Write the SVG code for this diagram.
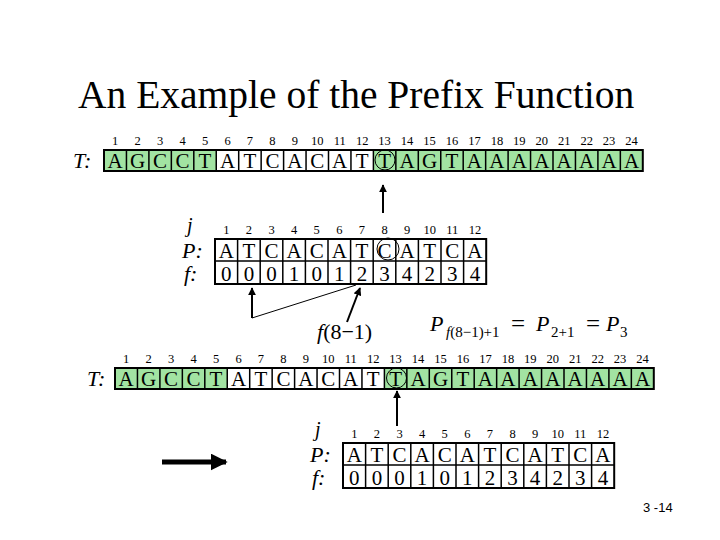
<svg xmlns="http://www.w3.org/2000/svg" width="720" height="540" viewBox="0 0 720 540">
<style>
.serif{font-family:"Liberation Serif","Times New Roman",serif;fill:#000}
.num{font-size:12.5px;text-anchor:middle}
.cell{font-size:21px;text-anchor:middle}
.lbl{font-size:22px;font-style:italic}
.jl{font-size:20px;font-style:italic}
.grid{fill:none;stroke:#000;stroke-width:1.5}
.outer{fill:none;stroke:#000;stroke-width:2}
.green{fill:#a2e3a2}
.circ{fill:none;stroke:#000;stroke-width:1}
.arr{stroke:#000;stroke-width:2;fill:none}
</style>
<defs>
<marker id="ah" viewBox="0 0 10 10" refX="9" refY="5" markerWidth="8" markerHeight="8" markerUnits="userSpaceOnUse" orient="auto">
<path d="M0,0 L10,5 L0,10 Z" fill="#000"/>
</marker>
<marker id="ahbig" viewBox="0 0 10 10" refX="9" refY="5" markerWidth="17" markerHeight="17" markerUnits="userSpaceOnUse" orient="auto">
<path d="M0,0 L10,5 L0,10 Z" fill="#000"/>
</marker>
</defs>
<rect width="720" height="540" fill="#fff"/>
<g id="title"><text class="serif" x="78" y="108" font-size="39.5">An Example of the Prefix Function</text></g>

<g id="t-row-1">
<text class="serif lbl" x="73" y="168">T:</text>
<rect class="green" x="104" y="150" width="112.25" height="21"/>
<rect class="green" x="373.4" y="150" width="269.4" height="21"/>
<path class="grid" d="M126.45,150V171M148.9,150V171M171.35,150V171M193.8,150V171M216.25,150V171M238.7,150V171M261.15,150V171M283.6,150V171M306.05,150V171M328.5,150V171M350.95,150V171M373.4,150V171M395.85,150V171M418.3,150V171M440.75,150V171M463.2,150V171M485.65,150V171M508.1,150V171M530.55,150V171M553,150V171M575.45,150V171M597.9,150V171M620.35,150V171"/>
<rect class="outer" x="104" y="150" width="538.8" height="21"/>
<text class="serif num" y="145"><tspan x="115.2">1</tspan><tspan x="137.7">2</tspan><tspan x="160.1">3</tspan><tspan x="182.6">4</tspan><tspan x="205">5</tspan><tspan x="227.5">6</tspan><tspan x="249.9">7</tspan><tspan x="272.4">8</tspan><tspan x="294.8">9</tspan><tspan x="317.3">10</tspan><tspan x="339.7">11</tspan><tspan x="362.2">12</tspan><tspan x="384.6">13</tspan><tspan x="407.1">14</tspan><tspan x="429.5">15</tspan><tspan x="452">16</tspan><tspan x="474.4">17</tspan><tspan x="496.9">18</tspan><tspan x="519.3">19</tspan><tspan x="541.8">20</tspan><tspan x="564.2">21</tspan><tspan x="586.7">22</tspan><tspan x="609.1">23</tspan><tspan x="631.6">24</tspan></text>
<text class="serif cell" y="168" x="115.2 137.7 160.1 182.6 205 227.5 249.9 272.4 294.8 317.3 339.7 362.2 384.6 407.1 429.5 452 474.4 496.9 519.3 541.8 564.2 586.7 609.1 631.6">AGCCTATCACATTAGTAAAAAAAA</text>
<circle class="circ" cx="385" cy="160" r="10"/>
</g>

<g id="p-table-1">
<text class="serif jl" x="187" y="232">j</text>
<text class="serif lbl" x="182" y="258">P:</text>
<text class="serif lbl" x="184" y="281">f:</text>
<path class="grid" d="M215,261H486.2M237.6,239V284M260.2,239V284M282.8,239V284M305.4,239V284M328,239V284M350.6,239V284M373.2,239V284M395.8,239V284M418.4,239V284M441,239V284M463.6,239V284"/>
<rect class="outer" x="215" y="239" width="271.2" height="45"/>
<text class="serif num" y="234"><tspan x="226.3">1</tspan><tspan x="248.9">2</tspan><tspan x="271.5">3</tspan><tspan x="294.1">4</tspan><tspan x="316.7">5</tspan><tspan x="339.3">6</tspan><tspan x="361.9">7</tspan><tspan x="384.5">8</tspan><tspan x="407.1">9</tspan><tspan x="429.7">10</tspan><tspan x="452.3">11</tspan><tspan x="474.9">12</tspan></text>
<text class="serif cell" y="258" x="226.3 248.9 271.5 294.1 316.7 339.3 361.9 384.5 407.1 429.7 452.3 474.9">ATCACATCATCA</text>
<text class="serif cell" y="281" x="226.3 248.9 271.5 294.1 316.7 339.3 361.9 384.5 407.1 429.7 452.3 474.9">000101234234</text>
<circle class="circ" cx="388" cy="249" r="11"/>
</g>

<g id="t-row-2" transform="translate(11,218)">
<text class="serif lbl" x="76" y="168">T:</text>
<rect class="green" x="104" y="150" width="112.25" height="21"/>
<rect class="green" x="373.4" y="150" width="269.4" height="21"/>
<path class="grid" d="M126.45,150V171M148.9,150V171M171.35,150V171M193.8,150V171M216.25,150V171M238.7,150V171M261.15,150V171M283.6,150V171M306.05,150V171M328.5,150V171M350.95,150V171M373.4,150V171M395.85,150V171M418.3,150V171M440.75,150V171M463.2,150V171M485.65,150V171M508.1,150V171M530.55,150V171M553,150V171M575.45,150V171M597.9,150V171M620.35,150V171"/>
<rect class="outer" x="104" y="150" width="538.8" height="21"/>
<text class="serif num" y="145"><tspan x="115.2">1</tspan><tspan x="137.7">2</tspan><tspan x="160.1">3</tspan><tspan x="182.6">4</tspan><tspan x="205">5</tspan><tspan x="227.5">6</tspan><tspan x="249.9">7</tspan><tspan x="272.4">8</tspan><tspan x="294.8">9</tspan><tspan x="317.3">10</tspan><tspan x="339.7">11</tspan><tspan x="362.2">12</tspan><tspan x="384.6">13</tspan><tspan x="407.1">14</tspan><tspan x="429.5">15</tspan><tspan x="452">16</tspan><tspan x="474.4">17</tspan><tspan x="496.9">18</tspan><tspan x="519.3">19</tspan><tspan x="541.8">20</tspan><tspan x="564.2">21</tspan><tspan x="586.7">22</tspan><tspan x="609.1">23</tspan><tspan x="631.6">24</tspan></text>
<text class="serif cell" y="168" x="115.2 137.7 160.1 182.6 205 227.5 249.9 272.4 294.8 317.3 339.7 362.2 384.6 407.1 429.5 452 474.4 496.9 519.3 541.8 564.2 586.7 609.1 631.6">AGCCTATCACATTAGTAAAAAAAA</text>
<circle class="circ" cx="385.5" cy="160" r="10"/>
</g>

<g id="p-table-2" transform="translate(128,204)">
<text class="serif jl" x="187" y="232">j</text>
<text class="serif lbl" x="182" y="258">P:</text>
<text class="serif lbl" x="184" y="281">f:</text>
<path class="grid" d="M215,261H486.2M237.6,239V284M260.2,239V284M282.8,239V284M305.4,239V284M328,239V284M350.6,239V284M373.2,239V284M395.8,239V284M418.4,239V284M441,239V284M463.6,239V284"/>
<rect class="outer" x="215" y="239" width="271.2" height="45"/>
<text class="serif num" y="234"><tspan x="226.3">1</tspan><tspan x="248.9">2</tspan><tspan x="271.5">3</tspan><tspan x="294.1">4</tspan><tspan x="316.7">5</tspan><tspan x="339.3">6</tspan><tspan x="361.9">7</tspan><tspan x="384.5">8</tspan><tspan x="407.1">9</tspan><tspan x="429.7">10</tspan><tspan x="452.3">11</tspan><tspan x="474.9">12</tspan></text>
<text class="serif cell" y="258" x="226.3 248.9 271.5 294.1 316.7 339.3 361.9 384.5 407.1 429.7 452.3 474.9">ATCACATCATCA</text>
<text class="serif cell" y="281" x="226.3 248.9 271.5 294.1 316.7 339.3 361.9 384.5 407.1 429.7 452.3 474.9">000101234234</text>
</g>

<g id="connectors">
<line class="arr" x1="383" y1="213" x2="383" y2="185" marker-end="url(#ah)"/>
<line class="arr" x1="252" y1="318" x2="252" y2="288" marker-end="url(#ah)"/>
<line stroke="#000" stroke-width="1" x1="252" y1="318" x2="356" y2="285"/>
<line class="arr" x1="347" y1="322" x2="360" y2="288" marker-end="url(#ah)"/>
<line class="arr" x1="397" y1="426" x2="397" y2="391" marker-end="url(#ah)"/>
<line stroke="#000" stroke-width="5" x1="162" y1="462" x2="226" y2="462" marker-end="url(#ahbig)"/>
</g>

<g id="label-f">
<text class="serif" x="317" y="339" font-size="22"><tspan font-style="italic">f</tspan>(8−1)</text>
</g>

<g id="formula">
<text class="serif" font-size="22" y="331"><tspan x="430" font-style="italic">P</tspan><tspan x="446" y="337" font-size="15"><tspan font-style="italic">f</tspan>(8−1)+1</tspan><tspan x="511" y="332" font-size="25">=</tspan><tspan x="536" y="331" font-style="italic">P</tspan><tspan x="551" y="337" font-size="15">2+1</tspan><tspan x="586" y="332" font-size="25">=</tspan><tspan x="606" y="331" font-style="italic">P</tspan><tspan x="620" y="337" font-size="15">3</tspan></text>
</g>

<g id="page-number"><text x="643" y="512" font-family="Liberation Sans, Arial, sans-serif" font-size="13" fill="#000">3 -14</text></g>
</svg>
